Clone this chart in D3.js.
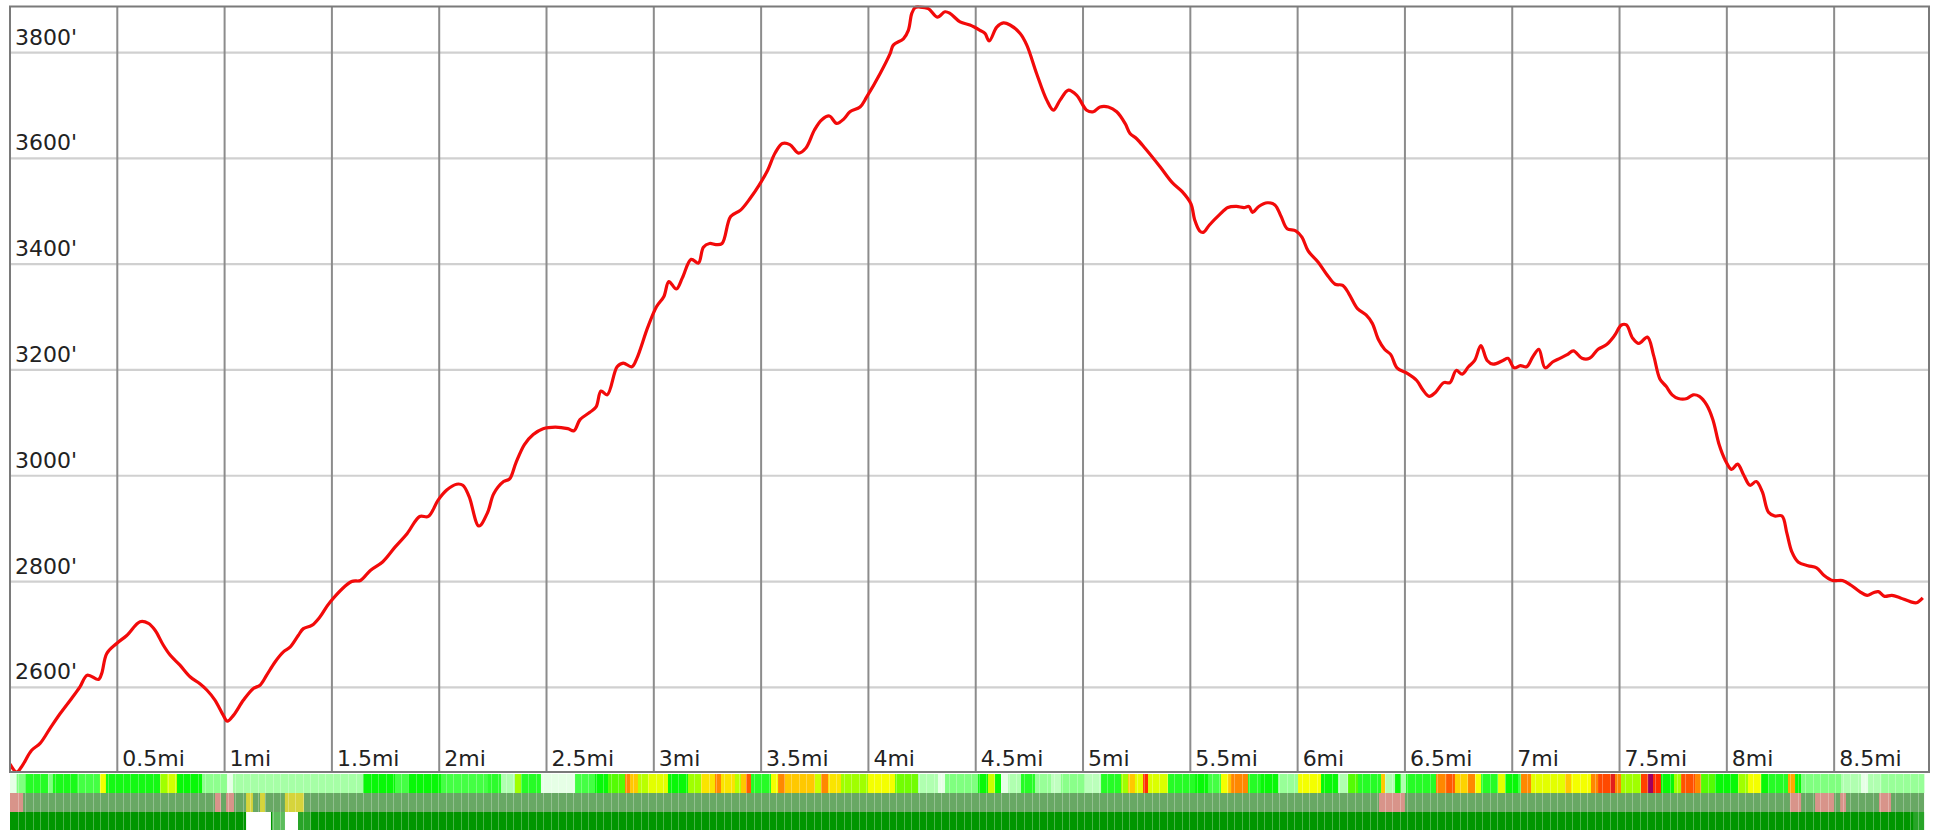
<!DOCTYPE html>
<html>
<head>
<meta charset="utf-8">
<script src="https://cdn.jsdelivr.net/npm/d3@7"></script>
<style>
    body { margin: 0; background: #fff; }
    svg { display: block; }
    .label { font-family: "DejaVu Sans", sans-serif; font-size: 22px; fill: #222; }
</style>
</head>
<body>
<svg id="chart" width="1935" height="830"></svg>
<script>
// elevation profile, distance in miles / elevation in feet
var profileMi = [0.000, 0.031, 0.054, 0.101, 0.140, 0.186, 0.233, 0.287, 0.326, 0.360, 0.412, 0.427, 0.451, 0.497, 0.544,
    0.606, 0.645, 0.676, 0.714, 0.746, 0.792, 0.839, 0.885, 0.917, 0.955, 0.994, 1.013, 1.041, 1.088, 1.134, 1.165, 1.196,
    1.235, 1.274, 1.305, 1.343, 1.367, 1.406, 1.444, 1.491, 1.592, 1.633, 1.679, 1.736, 1.794, 1.851, 1.909, 1.949, 1.995,
    2.035, 2.081, 2.110, 2.139, 2.185, 2.225, 2.254, 2.300, 2.328, 2.357, 2.397, 2.438, 2.484, 2.541, 2.599, 2.628, 2.656,
    2.702, 2.731, 2.754, 2.783, 2.829, 2.857, 2.898, 2.921, 2.972, 3.013, 3.047, 3.070, 3.105, 3.133, 3.174, 3.208, 3.231,
    3.260, 3.289, 3.318, 3.358, 3.404, 3.450, 3.490, 3.530, 3.565, 3.599, 3.634, 3.674, 3.708, 3.749, 3.783, 3.818, 3.852,
    3.887, 3.914, 3.961, 3.992, 4.054, 4.101, 4.116, 4.163, 4.186, 4.202, 4.217, 4.240, 4.279, 4.321, 4.357, 4.380, 4.427,
    4.473, 4.520, 4.543, 4.563, 4.598, 4.629, 4.660, 4.707, 4.738, 4.784, 4.831, 4.862, 4.893, 4.932, 4.971, 5.017, 5.048,
    5.079, 5.118, 5.157, 5.196, 5.219, 5.250, 5.289, 5.359, 5.416, 5.462, 5.503, 5.520, 5.543, 5.560, 5.589, 5.635, 5.675,
    5.715, 5.750, 5.773, 5.790, 5.819, 5.859, 5.894, 5.922, 5.951, 5.991, 6.020, 6.049, 6.095, 6.135, 6.175, 6.210, 6.239,
    6.279, 6.319, 6.348, 6.377, 6.405, 6.434, 6.463, 6.509, 6.555, 6.584, 6.613, 6.641, 6.681, 6.710, 6.739, 6.767, 6.796,
    6.825, 6.854, 6.883, 6.911, 6.957, 6.980, 7.009, 7.038, 7.067, 7.096, 7.124, 7.153, 7.188, 7.222, 7.256, 7.285, 7.325,
    7.360, 7.400, 7.440, 7.475, 7.509, 7.532, 7.561, 7.590, 7.630, 7.659, 7.688, 7.717, 7.745, 7.774, 7.814, 7.843, 7.872,
    7.906, 7.935, 7.964, 7.993, 8.022, 8.050, 8.079, 8.108, 8.137, 8.165, 8.194, 8.223, 8.257, 8.280, 8.303, 8.332, 8.378,
    8.418, 8.452, 8.493, 8.539, 8.579, 8.619, 8.654, 8.683, 8.706, 8.735, 8.769, 8.809, 8.855, 8.884, 8.913];

var profileFt = [2455, 2440, 2450, 2481, 2494, 2522, 2550, 2579, 2601, 2623, 2615, 2626, 2664, 2683, 2698,
    2724, 2721, 2708, 2680, 2661, 2642, 2620, 2607, 2595, 2576, 2547, 2536, 2547, 2576, 2598, 2604, 2623,
    2648, 2667, 2676, 2698, 2711, 2717, 2733, 2761, 2800, 2802, 2821, 2837, 2865, 2891, 2923, 2923, 2954,
    2973, 2984, 2982, 2961, 2905, 2930, 2966, 2989, 2994, 3024, 3059, 3078, 3089, 3092, 3089, 3085, 3106,
    3120, 3130, 3160, 3153, 3206, 3213, 3206, 3222, 3281, 3320, 3339, 3367, 3353, 3374, 3409, 3402, 3432,
    3439, 3437, 3439, 3490, 3502, 3525, 3549, 3577, 3610, 3628, 3626, 3610, 3619, 3654, 3673, 3680, 3666,
    3675, 3688, 3697, 3716, 3760, 3798, 3814, 3826, 3842, 3874, 3885, 3886, 3883, 3867, 3877, 3874, 3858,
    3852, 3842, 3836, 3822, 3848, 3856, 3852, 3836, 3814, 3760, 3710, 3691, 3710, 3729, 3719, 3691, 3688,
    3697, 3697, 3688, 3666, 3647, 3637, 3619, 3584, 3554, 3537, 3514, 3484, 3463, 3460, 3474, 3493, 3507,
    3509, 3507, 3509, 3498, 3509, 3516, 3512, 3491, 3467, 3463, 3451, 3425, 3404, 3381, 3362, 3360, 3344,
    3316, 3304, 3288, 3257, 3239, 3229, 3204, 3194, 3180, 3162, 3150, 3157, 3176, 3176, 3199, 3192, 3206,
    3218, 3246, 3218, 3211, 3218, 3222, 3204, 3208, 3206, 3225, 3239, 3204, 3215, 3222, 3229, 3236, 3222,
    3222, 3239, 3248, 3264, 3285, 3285, 3260, 3250, 3262, 3227, 3183, 3169, 3153, 3146, 3146, 3153, 3150,
    3134, 3106, 3059, 3029, 3012, 3022, 3001, 2982, 2989, 2970, 2931, 2924, 2924, 2891, 2856, 2837, 2830,
    2826, 2812, 2802, 2802, 2793, 2781, 2774, 2779, 2781, 2772, 2774, 2769, 2762, 2760, 2769];

var xTicks = [0.5, 1, 1.5, 2, 2.5, 3, 3.5, 4, 4.5, 5, 5.5, 6, 6.5, 7, 7.5, 8, 8.5];
var yTicks = [2600, 2800, 3000, 3200, 3400, 3600, 3800];

// top strip: [start mile, grade level]  0 = flat ... 10 = steepest
var gradeRuns = [[0.000, 0], [0.031, 2], [0.070, 3.5], [0.177, 2], [0.200, 3.7], [0.312, 3], [0.419, 6], [0.447, 3.8],
    [0.699, 5], [0.732, 5.6], [0.778, 4], [0.895, 1.7], [1.011, 0], [1.039, 1.2], [1.645, 4], [1.794, 3], [1.855, 4],
    [2.008, 3], [2.227, 3.4], [2.288, 1], [2.353, 5], [2.381, 3.5], [2.474, 0], [2.633, 3], [2.726, 4], [2.787, 4.5],
    [2.866, 8], [2.890, 7], [2.926, 5.3], [2.973, 5.8], [3.066, 4], [3.159, 5], [3.220, 6.5], [3.285, 8], [3.313, 6.5],
    [3.378, 5.3], [3.406, 7], [3.430, 8.5], [3.453, 3.5], [3.546, 6], [3.579, 8], [3.611, 7], [3.751, 5.5], [3.779, 8],
    [3.812, 6.5], [3.872, 5], [3.998, 6], [4.124, 4.7], [4.231, 1], [4.324, 0], [4.357, 2], [4.511, 4], [4.557, 5.5],
    [4.590, 4], [4.618, 0], [4.651, 1], [4.711, 3.5], [4.776, 1.5], [4.851, 0.7], [4.897, 1.8], [5.009, 0.8], [5.084, 3.5],
    [5.177, 5], [5.210, 7], [5.242, 5.8], [5.280, 9], [5.303, 5.7], [5.396, 3.5], [5.522, 4], [5.582, 3], [5.643, 6],
    [5.676, 7], [5.690, 8], [5.769, 3.5], [5.829, 4], [5.909, 1.5], [6.002, 6], [6.109, 4], [6.188, 1], [6.235, 4.5],
    [6.281, 3.5], [6.389, 7], [6.407, 1], [6.454, 4], [6.482, 1], [6.505, 3.5], [6.645, 8], [6.692, 8.5], [6.733, 6.8],
    [6.794, 8], [6.827, 6], [6.855, 3.5], [6.934, 5.8], [6.967, 4], [7.027, 3], [7.041, 8], [7.088, 5.8], [7.246, 7],
    [7.274, 6], [7.367, 8], [7.400, 8.7], [7.460, 9.3], [7.479, 8], [7.507, 5], [7.600, 8.8], [7.633, 10], [7.656, 9],
    [7.693, 4], [7.754, 5], [7.787, 8.6], [7.852, 8], [7.880, 4.5], [7.945, 4], [8.052, 5], [8.099, 6], [8.160, 4],
    [8.192, 3.5], [8.285, 7.5], [8.318, 4], [8.346, 2], [8.532, 1], [8.625, 0], [8.658, 1], [8.719, 1.5]];
var stripEndMi = 8.919;

// middle strip exceptions: [from, to, kind]
var surfaceRuns = [[0.000, 0.061, "loose"], [0.955, 0.983, "loose"], [1.007, 1.044, "loose"], [1.100, 1.132, "mixed"],
    [1.165, 1.188, "mixed"], [1.281, 1.370, "mixed"], [6.379, 6.500, "loose"], [8.294, 8.346, "loose"],
    [8.411, 8.500, "loose"], [8.528, 8.555, "loose"], [8.709, 8.765, "loose"]];

// bottom strip exceptions: [from, to, kind]
var coverRuns = [[1.100, 1.216, "none"], [1.221, 1.281, "sparse"], [1.281, 1.342, "none"], [1.342, 1.403, "thin"],
    [8.868, 8.919, "thin"]];

var svg = d3.select("#chart");

// note: "top" is taken by window.top, so keep plot* names
var plotL = 10, plotR = 1929, plotT = 6.5, plotB = 772;

var xScale = d3.scaleLinear().domain([0, 8.942]).range([plotL, plotR]);
var yScale = d3.scaleLinear().domain([2440, 3887]).range([plotB, plotT]);

var gradeColor = d3.scaleLinear()
    .domain([0, 1, 2, 3, 4, 5, 6, 7, 8, 9, 10])
    .range(["#e6ffe6", "#b0ffb0", "#80ff80", "#44ff44", "#08f808", "#a0ff00", "#f4ff00", "#ffc800", "#ff8800", "#ff2e00", "#a00060"]);
var surfaceColor = { base: "#68a864", loose: "#d8948a", mixed: "#d6d43c" };
var coverColor = { base: "#009600", none: "#ffffff", sparse: "#5cbd5c", thin: "#28a428" };

// grid
svg.append("g").selectAll("line")
    .data(yTicks)
    .enter()
    .append("line")
    .attr("x1", plotL).attr("x2", plotR)
    .attr("y1", function (d) { return yScale(d); })
    .attr("y2", function (d) { return yScale(d); })
    .style("stroke", "#d0d0d0")
    .style("stroke-width", 2.2);

svg.append("g").selectAll("line")
    .data(xTicks)
    .enter()
    .append("line")
    .attr("x1", function (d) { return xScale(d); })
    .attr("x2", function (d) { return xScale(d); })
    .attr("y1", plotT).attr("y2", plotB)
    .style("stroke", "#8c8c8c")
    .style("stroke-width", 2);

// tick labels, drawn inside the frame
svg.append("g").selectAll("text")
    .data(yTicks)
    .enter()
    .append("text")
    .attr("class", "label")
    .attr("x", plotL + 5)
    .attr("y", function (d) { return yScale(d) - 8; })
    .text(function (d) { return d + "'"; });

svg.append("g").selectAll("text")
    .data(xTicks)
    .enter()
    .append("text")
    .attr("class", "label")
    .attr("x", function (d) { return xScale(d) + 5; })
    .attr("y", plotB - 6)
    .text(function (d) { return d + "mi"; });

// the profile
svg.append("clipPath").attr("id", "plotclip")
    .append("rect")
    .attr("x", plotL).attr("y", plotT - 3)
    .attr("width", plotR - plotL).attr("height", plotB - plotT + 3);

var line = d3.line()
    .x(function (d, i) { return xScale(profileMi[i]); })
    .y(function (d) { return yScale(d); })
    .curve(d3.curveCatmullRom.alpha(0.5));

svg.append("path")
    .attr("d", line(profileFt))
    .attr("clip-path", "url(#plotclip)")
    .style("fill", "none")
    .style("stroke", "#f20a0a")
    .style("stroke-width", 3.2)
    .style("stroke-linejoin", "round");

// frame
svg.append("rect")
    .attr("x", plotL).attr("y", plotT)
    .attr("width", plotR - plotL).attr("height", plotB - plotT)
    .style("fill", "none")
    .style("stroke", "#7a7a7a")
    .style("stroke-width", 2);

// strips below the chart
var rows = [{ y: 774, h: 19 }, { y: 793, h: 19 }, { y: 812, h: 18 }];

svg.append("g").selectAll("rect")
    .data(gradeRuns)
    .enter()
    .append("rect")
    .attr("x", function (d) { return xScale(d[0]); })
    .attr("width", function (d, i) {
        var end = i < gradeRuns.length - 1 ? gradeRuns[i + 1][0] : stripEndMi;
        return xScale(end) - xScale(d[0]) + 0.3;
    })
    .attr("y", rows[0].y).attr("height", rows[0].h)
    .style("fill", function (d) { return gradeColor(d[1]); });

svg.append("rect")
    .attr("x", xScale(0)).attr("width", xScale(stripEndMi) - xScale(0))
    .attr("y", rows[1].y).attr("height", rows[1].h)
    .style("fill", surfaceColor.base);

svg.append("g").selectAll("rect")
    .data(surfaceRuns)
    .enter()
    .append("rect")
    .attr("x", function (d) { return xScale(d[0]); })
    .attr("width", function (d) { return xScale(d[1]) - xScale(d[0]); })
    .attr("y", rows[1].y).attr("height", rows[1].h)
    .style("fill", function (d) { return surfaceColor[d[2]]; });

svg.append("rect")
    .attr("x", xScale(0)).attr("width", xScale(stripEndMi) - xScale(0))
    .attr("y", rows[2].y).attr("height", rows[2].h)
    .style("fill", coverColor.base);

svg.append("g").selectAll("rect")
    .data(coverRuns)
    .enter()
    .append("rect")
    .attr("x", function (d) { return xScale(d[0]); })
    .attr("width", function (d) { return xScale(d[1]) - xScale(d[0]); })
    .attr("y", rows[2].y).attr("height", rows[2].h)
    .style("fill", function (d) { return coverColor[d[2]]; });

// faint segment separators
svg.append("g").selectAll("line")
    .data(d3.range(0.035, stripEndMi, 0.035))
    .enter()
    .append("line")
    .attr("x1", function (d) { return Math.round(xScale(d)) + 0.5; })
    .attr("x2", function (d) { return Math.round(xScale(d)) + 0.5; })
    .attr("y1", rows[0].y).attr("y2", 830)
    .style("stroke", "#fff")
    .style("stroke-opacity", 0.28)
    .style("stroke-width", 1);
</script>
</body>
</html>
